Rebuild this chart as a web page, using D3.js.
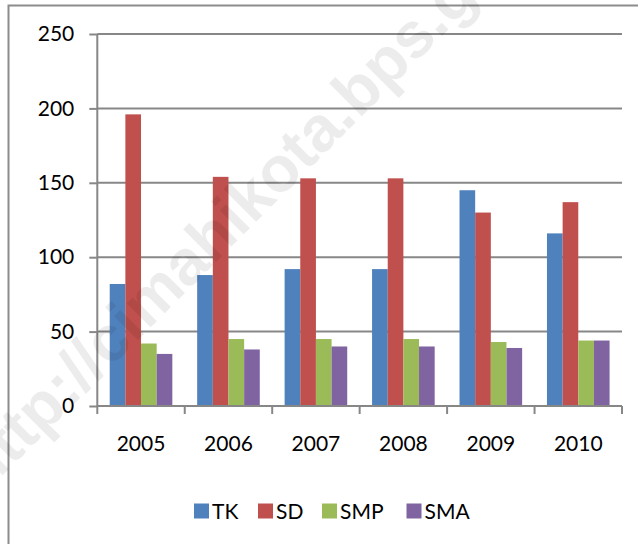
<!DOCTYPE html>
<html>
<head>
<meta charset="utf-8">
<script src="https://cdn.jsdelivr.net/npm/d3@7"></script>
<style>
  html,body{margin:0;padding:0;background:#fff;}
  svg{display:block;}
</style>
</head>
<body>
<svg id="chart" width="638" height="544"></svg>
<script>
/* data */
var years=['2005','2006','2007','2008','2009','2010'];
var series=['TK','SD','SMP','SMA'];
var TK =[82,88,92,92,145,116];
var SD =[196,154,153,153,130,137];
var SMP=[42,45,45,45,43,44];
var SMA=[35,38,40,40,39,44];
var yTicks=[0,50,100,150,200,250];
var values={TK:TK,SD:SD,SMP:SMP,SMA:SMA};
var colors={TK:'#4F81BD',SD:'#C0504D',SMP:'#9BBB59',SMA:'#8064A2'};

var svg=d3.select('#chart');
var FONT='Lato, "Open Sans", sans-serif';
var ML=97.3, MR=622, MT=34, MB=406;

// outer frame
svg.append('rect').attr('x',8.5).attr('y',5.5).attr('width',640).attr('height',600)
  .attr('fill','none').attr('stroke','#8c8c8c').attr('stroke-width',2);

var x0=d3.scaleBand().domain(years).range([ML,MR]).padding(0);
var x1=d3.scaleBand().domain(series).range([x0.bandwidth()*0.142,x0.bandwidth()*0.858]).padding(0);
var y=d3.scaleLinear().domain([0,250]).range([MB,MT]);

// grid
var g=svg.append('g');
g.selectAll('line.grid').data(yTicks.slice(1)).enter().append('line')
  .attr('x1',ML).attr('x2',MR).attr('y1',function(d){return y(d);}).attr('y2',function(d){return y(d);})
  .attr('stroke','#878787').attr('stroke-width',2);

// bars
years.forEach(function(yr,i){
  var grp=g.append('g').attr('transform','translate('+x0(yr)+',0)');
  series.forEach(function(s){
    var v=values[s][i];
    grp.append('rect').attr('x',x1(s)).attr('y',y(v))
      .attr('width',x1.bandwidth()).attr('height',y(0)-y(v))
      .attr('fill',colors[s]);
  });
});

// y axis
var yAxis=d3.axisLeft(y).tickValues(yTicks).tickSize(8).tickPadding(15);
var ya=svg.append('g').attr('transform','translate('+ML+',0)').call(yAxis);
ya.select('.domain').attr('stroke','#878787').attr('stroke-width',2).attr('d','M0,'+MB+'V'+MT);
ya.selectAll('.tick line').attr('stroke','#878787').attr('stroke-width',2);
ya.selectAll('.tick text').attr('font-family',FONT).attr('font-size',21).attr('fill','#000');

// x axis
var xAxis=d3.axisBottom(x0).tickSize(0).tickPadding(30);
var xa=svg.append('g').attr('transform','translate(0,'+MB+')').call(xAxis);
xa.select('.domain').attr('stroke','#878787').attr('stroke-width',2).attr('d','M'+ML+',0H'+MR);
xa.selectAll('.tick text').attr('font-family',FONT).attr('font-size',21).attr('fill','#000');
var bounds=years.map(function(yr){return x0(yr);}).concat([MR]);
xa.selectAll('line.xt').data(bounds).enter().append('line')
  .attr('x1',function(d){return d;}).attr('x2',function(d){return d;})
  .attr('y1',0).attr('y2',8).attr('stroke','#878787').attr('stroke-width',2);

// legend
var legX=[194,258,322,406.5];
var leg=svg.append('g');
series.forEach(function(s,i){
  leg.append('rect').attr('x',legX[i]).attr('y',503.5).attr('width',15).attr('height',15).attr('fill',colors[s]);
  leg.append('text').attr('x',legX[i]+18).attr('y',511).attr('dy','0.36em')
    .attr('font-family',FONT).attr('font-size',21).attr('fill','#000').text(s);
});

// watermark
svg.append('text').attr('transform','translate(-16,494) rotate(-45)')
  .attr('font-family','Liberation Sans, Arial, sans-serif').attr('font-weight','bold')
  .attr('font-size',64).attr('fill','#000').attr('opacity',0.07)
  .text('http://cimahikota.bps.go.id');
</script>
</body>
</html>
